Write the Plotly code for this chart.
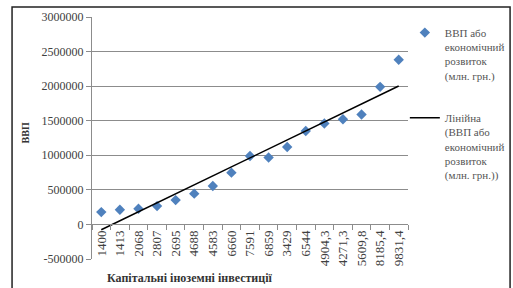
import numpy as np
import plotly.graph_objects as go

categories = ["1400", "1413", "2068", "2807", "2695", "4688", "4583", "6660", "7591",
              "6859", "3429", "6544", "4904,3", "4271,3", "5609,8", "8185,4", "9831,4"]
gdp = [178000, 213000, 227000, 265000, 352000, 445000, 555000, 749000, 990000,
       967000, 1120000, 1352000, 1459000, 1522000, 1590000, 1990000, 2381000]
y_ticks = [-500000, 0, 500000, 1000000, 1500000, 2000000, 2500000, 3000000]

series_name = "ВВП або<br>економічний<br>розвиток<br>(млн. грн.)"
trend_name = "Лінійна<br>(ВВП або<br>економічний<br>розвиток<br>(млн. грн.))"

idx = np.arange(len(gdp))
k, b = np.polyfit(idx, gdp, 1)
trend = k * idx + b

FONT = "Liberation Serif, Times New Roman, DejaVu Serif, serif"
fig = go.Figure()
fig.add_trace(go.Scatter(x=categories, y=gdp, mode="markers", name=series_name,
                         legendgroup="a",
                         marker=dict(symbol="diamond", size=8, color="#4F81BD")))
fig.add_trace(go.Scatter(x=categories, y=trend, mode="lines", name=trend_name,
                         legendgroup="b",
                         line=dict(color="black", width=1.5)))

fig.update_layout(
    width=513, height=288,
    margin=dict(l=92, r=105, t=17, b=29, autoexpand=False),
    paper_bgcolor="white", plot_bgcolor="white",
    font=dict(family=FONT, color="#404040"),
    showlegend=True,
    legend=dict(x=0.99, y=0.992, xanchor="left", yanchor="top",
                valign="top", tracegroupgap=25,
                font=dict(family=FONT, size=11, color="#555555"),
                bgcolor="rgba(0,0,0,0)"),
    xaxis=dict(type="category", range=[-0.5, len(categories) - 0.5],
               anchor="free", position=500000 / 3500000, automargin=False,
               showline=True, linecolor="#8c8c8c", linewidth=1,
               ticks="outside", tickson="boundaries", ticklen=5, tickcolor="#8c8c8c",
               tickangle=-90, tickfont=dict(family=FONT, size=13, color="#404040"),
               showgrid=False),
    yaxis=dict(range=[-500000, 3000000], tickvals=y_ticks, automargin=False,
               ticktext=[str(v) for v in y_ticks],
               showline=True, linecolor="#8c8c8c", linewidth=1,
               ticks="outside", ticklen=5, tickcolor="#8c8c8c",
               showgrid=True, gridcolor="#8c8c8c", gridwidth=1, zeroline=False,
               tickfont=dict(family=FONT, size=12, color="#404040")),
    annotations=[
        dict(text="<b>ВВП</b>", xref="paper", yref="paper", x=-0.235, y=0.52,
             textangle=-90, showarrow=False, font=dict(family=FONT, size=10, color="#333")),
        dict(text="<b>Капітальні іноземні інвестиції</b>", xref="paper", yref="paper",
             x=0.31, y=-0.078, showarrow=False, xanchor="center", yanchor="middle",
             font=dict(family=FONT, size=12, color="#333")),
    ],
    shapes=[
        dict(type="rect", xref="paper", yref="paper", x0=-0.253, y0=-0.2,
             x1=1.323, y1=1.041, line=dict(color="#222", width=1.5), layer="below"),
    ],
)

fig.write_html("out.html", config={"displayModeBar": False, "staticPlot": True},
               post_script="document.body.style.margin='0';")
